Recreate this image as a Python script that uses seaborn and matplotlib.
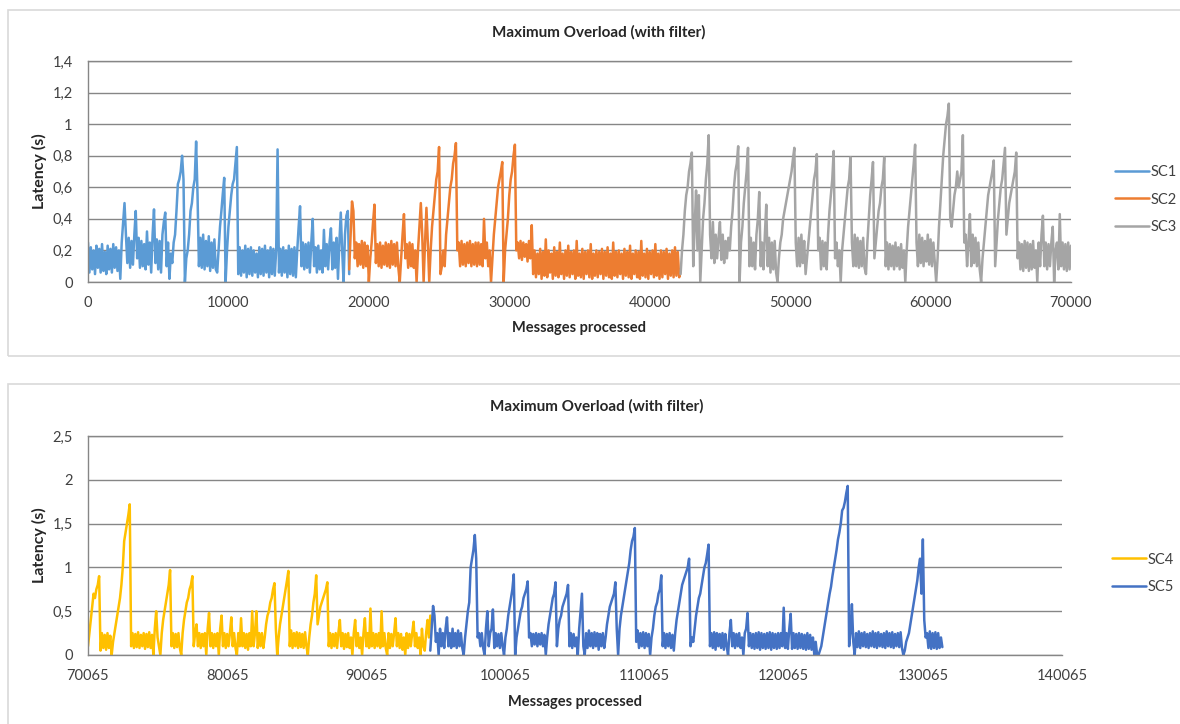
import numpy as np
import pandas as pd
import matplotlib
matplotlib.use("Agg")
import matplotlib.pyplot as plt
from matplotlib.patches import Rectangle
from matplotlib.ticker import FuncFormatter
import seaborn as sns

# One latency sample (in ms) every STEP processed messages.
STEP = 100

SC1_START = 0
SC1_MS = [
    250, 60, 220, 80, 200, 50, 230, 90, 210, 60, 240, 70, 190, 50, 230, 80, 210, 60, 240, 90, 220, 70, 200,
    20,
    250, 380, 500, 300,
    120, 280, 90, 260, 110, 300,
    450, 150,
    280, 90, 260, 100, 240, 80, 320, 110, 250, 60,
    300, 460, 120,
    270, 80, 260, 60, 300,
    380, 440, 100,
    250, 20, 180, 120, 250, 300,
    450, 620, 650, 700, 800, 650, 0,
    150, 200, 300, 450, 500, 600, 650, 890, 550, 100,
    280, 90, 300, 80, 260, 100, 290, 70, 250, 90, 270, 80, 60,
    200, 350, 450, 560, 660, 0,
    200, 350, 450, 550, 620, 650, 750, 855, 50,
    220, 40, 200, 60, 230, 30, 210, 50, 220, 40, 200, 60, 180, 30, 220, 50, 210, 40, 230, 60, 200, 30, 220, 50, 210, 40,
    200, 840, 60,
    210, 40, 220, 60, 200, 30, 230, 50, 210, 40, 220,
    30, 200, 350, 480, 100,
    250, 80, 240, 90, 250, 60, 250, 400, 100,
    220, 60, 230, 80, 200, 60, 330, 100, 240, 80, 250, 340, 80, 250, 90, 280, 20, 250, 440, 200, 0, 300, 420, 450, 50,
]

SC2_START = 18600
SC2_MS = [
    80, 300, 510, 450, 150,
    250, 100, 240, 110, 260, 90, 250, 100, 230,
    0,
    150, 250, 380, 490, 120,
    240, 100, 250, 90, 230, 110, 250, 100, 240, 90, 260, 110, 240, 100, 250, 90,
    0,
    150, 300, 430, 150,
    240, 90, 250, 100, 240, 90, 200, 0,
    200, 350, 500, 300, 0,
    250, 470, 250, 0,
    200, 350, 450, 550, 650, 700, 855, 50,
    100, 200, 100, 300, 400, 500, 600, 650, 750, 800, 880, 200,
    250, 100, 260, 110, 240, 100, 250, 120, 260, 100, 240, 110, 250, 100, 250, 110, 240, 100, 400, 150, 250, 100, 200,
    0,
    150, 300, 400, 500, 600, 650, 700, 760, 0,
    200, 300, 400, 550, 650, 700, 800, 870, 200,
    250, 150, 260, 140, 250, 160, 240, 130, 260, 150,
    360, 50,
    200, 30, 180, 50, 210, 20, 190, 40, 270, 30,
    200, 60, 180, 20, 220, 40, 190, 30, 250, 50,
    180, 20, 200, 40, 230, 30, 190, 50, 200, 20,
    260, 40, 180, 30, 210, 20, 190, 50, 200, 30,
    240, 20, 180, 40, 200, 30, 190, 50, 210, 20,
    190, 40, 220, 30, 180, 20, 250, 40, 190, 30,
    200, 50, 180, 20, 210, 40, 190, 30, 230, 20,
    180, 50, 200, 30, 190, 20, 260, 40, 180, 30,
    210, 20, 190, 50, 200, 30, 240, 40, 180, 20,
    200, 30, 190, 50, 210, 20, 180, 40, 200, 30,
    220, 40, 190, 30, 80,
]

SC3_START = 42200
SC3_MS = [
    50, 200, 300, 450, 550, 600, 700, 750, 820, 100,
    350, 580, 200, 550, 0,
    200, 400, 500, 650, 750, 930, 300,
    150, 380, 120, 300, 150, 280, 380, 140, 300, 120, 260, 150, 280, 200,
    350, 450, 600, 700, 750, 860, 0,
    250, 350, 500, 600, 700, 850, 100,
    280, 100, 250, 80, 300, 400, 570, 100, 250, 80, 300, 490, 100, 280, 60, 250, 80, 260, 60, 0,
    150, 250, 300, 400, 450, 500, 550, 600, 650, 700, 780, 850, 250,
    100, 280, 100, 300, 120, 260, 50,
    150, 250, 350, 450, 550, 650, 700, 810, 200,
    280, 80, 260, 100, 250, 80,
    300, 450, 550, 650, 830, 150,
    250, 100, 200, 0,
    200, 300, 400, 500, 600, 650, 790, 250,
    100, 300, 100, 280, 90, 260, 100, 280, 90, 50,
    250, 400, 550, 650, 760, 150,
    250, 350, 450, 500, 600, 650, 790, 100,
    250, 80, 240, 100, 230, 80, 250, 100, 220, 80, 240, 90, 200, 0,
    200, 350, 450, 550, 650, 750, 870, 250,
    100, 300, 120, 280, 100, 260, 130, 300, 110, 270, 100, 250, 120, 0,
    150, 350, 500, 650, 800, 900, 1000, 1050, 1130, 400,
    350, 450, 550, 600, 700, 600, 650, 700, 930, 250,
    300, 100, 250, 430, 100, 300, 120, 280, 100, 250, 80, 0,
    150, 250, 350, 450, 550, 600, 650, 700, 770, 100,
    250, 400, 500, 600, 650, 750, 850, 300,
    400, 500, 550, 600, 650, 700, 820, 150,
    250, 80, 240, 70, 260, 90, 250, 70, 240, 80, 260, 90, 200, 0, 250, 100, 300, 420, 100,
    250, 80, 240, 100, 250, 350, 0, 200, 250, 80, 430, 100, 250, 80, 240, 70, 250, 80, 230,
]

SC4_START = 70065
SC4_MS = [
    100, 250, 400, 550, 700, 650, 750, 800, 900, 50,
    250, 80, 230, 60, 250, 80, 220, 0,
    150, 250, 350, 450, 550, 650, 800, 1000, 1300, 1400, 1500, 1600, 1720, 100,
    250, 80, 240, 90, 260, 80, 230, 100, 250, 70, 240, 90, 260, 80, 230,
    0, 300, 500, 200, 100, 0,
    250, 400, 500, 600, 700, 800, 970, 100,
    250, 80, 240, 90, 250, 80, 0,
    250, 400, 500, 600, 650, 750, 800, 900, 100,
    250, 350, 100, 250, 80, 240, 100, 250, 0, 300, 480, 100,
    250, 80, 240, 100, 250, 0, 300, 450, 100, 250, 80, 240, 100, 250,
    430, 100, 250, 80, 0, 250, 100, 420, 100, 250, 80, 240, 60, 250,
    100, 500, 100, 250, 500, 80, 250, 100, 250, 80,
    200, 350, 450, 500, 600, 650, 750, 820, 300, 0,
    200, 350, 450, 550, 650, 750, 850, 960, 100,
    280, 80, 250, 100, 260, 80, 250, 90, 240, 80, 260, 100, 0,
    200, 350, 450, 600, 700, 910, 350,
    450, 550, 600, 650, 700, 750, 830, 100,
    250, 80, 240, 100, 250, 80,
    260, 400, 100, 250, 70, 240, 90, 250, 80, 200,
    0, 250, 400, 100, 250, 80, 200, 0, 250, 420,
    100, 250, 80, 530, 100, 250, 80, 240, 100, 250,
    80, 500, 100, 250, 80, 0, 250, 80, 240, 100,
    250, 420, 100, 250, 80, 240, 60, 200, 0, 250,
    80, 240, 100, 250, 380, 100, 250, 80, 200, 0,
    300, 100, 50, 250, 400, 200, 450,
]

SC5_START = 94665
SC5_MS = [
    50, 300, 560, 450, 150, 250, 0,
    300, 100, 250, 80, 300, 430, 100, 250, 80, 300, 100, 250, 80, 280, 100, 250, 80, 0,
    200, 350, 500, 600, 1000, 1100, 1200, 1370, 1100, 200,
    250, 100, 250, 80, 0, 300, 500, 100, 250, 300, 520, 80, 250, 100, 240, 80, 250, 100, 0,
    200, 300, 450, 550, 650, 750, 920, 0,
    200, 300, 400, 500, 550, 650, 700, 750, 840, 200,
    250, 100, 240, 120, 250, 100, 240, 120, 250, 100, 230, 0,
    200, 350, 450, 550, 650, 700, 830, 100,
    300, 400, 450, 550, 600, 650, 700, 800, 100,
    250, 80, 240, 100, 200, 0, 300, 500, 700, 100, 0,
    250, 80, 280, 100, 250, 80, 260, 100, 250, 60, 240, 100, 250, 80,
    200, 350, 450, 550, 600, 650, 700, 830, 300, 0,
    300, 450, 550, 650, 750, 850, 950, 1050, 1200, 1300, 1350, 1450, 150,
    280, 80, 250, 100, 260, 80, 250, 100, 240, 0,
    200, 300, 450, 550, 600, 700, 750, 910, 100,
    250, 80, 240, 100, 250, 80, 230, 50,
    250, 400, 500, 600, 700, 800, 850, 900, 950, 1000, 1100, 100,
    200, 150, 300, 450, 550, 650, 700, 800, 900, 1000, 1050, 1150, 1260, 100,
    250, 80, 260, 60, 250, 100, 240, 80, 250, 60,
    240, 100, 0, 250, 400, 100, 250, 80, 240, 100,
    250, 80, 200, 0, 250, 300, 480, 100, 250, 80,
    240, 70, 250, 80, 260, 60, 250, 80, 240, 70,
    250, 80, 260, 60, 250, 80, 240, 70, 250, 80,
    250, 100, 540, 80, 250, 70, 300, 470, 70, 250,
    80, 240, 70, 250, 80, 240, 70, 230, 60, 250,
    70, 230, 60, 200, 0, 150, 0, 0,
    50, 100, 200, 300, 400, 500, 600, 700, 780, 900, 1000, 1100, 1200, 1320, 1400, 1500, 1650, 1680, 1750, 1850, 1930,
    100, 250, 580, 150, 0,
    250, 90, 270, 80, 250, 100, 260, 90, 240, 80,
    250, 100, 270, 90, 250, 80, 260, 100, 240, 90,
    250, 80, 270, 100, 250, 90, 260, 80, 240, 100,
    250, 90, 260, 80, 0,
    50, 150, 200, 250, 350, 450, 550, 650, 750, 850, 1000, 1100, 700, 1320, 400, 200,
    250, 80, 270, 70, 250, 80, 260, 70, 250, 80, 200, 90,
]

TITLE = "Maximum Overload (with filter)"
X_LABEL = "Messages processed"
Y_LABEL = "Latency (s)"

TOP_XTICKS = list(range(0, 70001, 10000))
TOP_YTICKS = [0, 0.2, 0.4, 0.6, 0.8, 1.0, 1.2, 1.4]
BOT_XTICKS = list(range(70065, 140066, 10000))
BOT_YTICKS = [0, 0.5, 1.0, 1.5, 2.0, 2.5]

PALETTE = {
    "SC1": "#5B9BD5",
    "SC2": "#ED7D31",
    "SC3": "#A5A5A5",
    "SC4": "#FFC000",
    "SC5": "#4472C4",
}


def series_frame(name, start, values_ms):
    x = start + STEP * np.arange(len(values_ms))
    return pd.DataFrame({
        "messages": x,
        "latency": np.asarray(values_ms, dtype=float) / 1000.0,
        "scenario": name,
    })


top_df = pd.concat([
    series_frame("SC1", SC1_START, SC1_MS),
    series_frame("SC2", SC2_START, SC2_MS),
    series_frame("SC3", SC3_START, SC3_MS),
], ignore_index=True)

bot_df = pd.concat([
    series_frame("SC4", SC4_START, SC4_MS),
    series_frame("SC5", SC5_START, SC5_MS),
], ignore_index=True)

sns.set_theme(style="white")
plt.rcParams["font.family"] = ["Lato", "DejaVu Sans"]

W, H = 1180, 724
fig = plt.figure(figsize=(W / 100, H / 100), dpi=100)
fig.patch.set_facecolor("white")

GRID = "#868686"
TICK_TXT = "#404040"
LABEL_TXT = "#262626"
LW = 1.8


def fx(px):
    return px / W


def fy(py):
    return 1 - py / H


# Chart-area frames
fig.patches.append(Rectangle((fx(8), fy(356)), fx(1200) - fx(8), fy(10) - fy(356),
                             transform=fig.transFigure, fill=False,
                             edgecolor="#d9d9d9", lw=1.2))
fig.patches.append(Rectangle((fx(8), fy(740)), fx(1200) - fx(8), fy(384) - fy(740),
                             transform=fig.transFigure, fill=False,
                             edgecolor="#d9d9d9", lw=1.2))

ax_top = fig.add_axes([fx(88), fy(282), fx(1071) - fx(88), fy(61) - fy(282)])
ax_bot = fig.add_axes([fx(88), fy(655), fx(1062) - fx(88), fy(436) - fy(655)])


def comma_fmt(v, pos):
    s = f"{v:.1f}".rstrip("0").rstrip(".")
    return s.replace(".", ",")


def style_axes(ax, xticks, yticks, ylim):
    ax.set_xlim(xticks[0], xticks[-1])
    ax.set_ylim(*ylim)
    ax.set_xticks(xticks)
    ax.set_yticks(yticks)
    ax.yaxis.set_major_formatter(FuncFormatter(comma_fmt))
    ax.grid(axis="y", color=GRID, lw=1.0)
    ax.grid(axis="x", visible=False)
    ax.set_axisbelow(True)
    for side in ("left", "top", "bottom"):
        ax.spines[side].set_visible(True)
        ax.spines[side].set_color(GRID)
        ax.spines[side].set_linewidth(1.0)
    ax.spines["right"].set_visible(False)
    ax.tick_params(axis="both", length=0, labelsize=10.5, labelcolor=TICK_TXT)
    ax.tick_params(axis="y", pad=11)
    ax.tick_params(axis="x", pad=10)
    ax.set_facecolor("white")


def draw_panel(ax, df, order, xticks, yticks, ylim, leg_x, leg_y, xlabel_y):
    sns.lineplot(data=df, x="messages", y="latency", hue="scenario",
                 hue_order=order, palette=PALETTE, linewidth=LW,
                 estimator=None, ax=ax)
    style_axes(ax, xticks, yticks, ylim)
    ax.set_xlabel(X_LABEL, fontsize=10.5, fontweight="bold", color=LABEL_TXT)
    ax.set_ylabel(Y_LABEL, fontsize=11.5, fontweight="bold", color=LABEL_TXT)
    ax.xaxis.set_label_coords(0.5, xlabel_y)
    ax.yaxis.set_label_coords((47 - 88) / (ax.get_position().width * W), 0.5)
    handles, labels = ax.get_legend_handles_labels()
    if ax.get_legend() is not None:
        ax.get_legend().remove()
    leg = ax.legend(handles, labels, loc="center left",
                    bbox_to_anchor=(leg_x, leg_y), bbox_transform=fig.transFigure,
                    frameon=False, fontsize=10.5, handlelength=2.3,
                    handletextpad=0.15, labelspacing=0.95,
                    borderpad=0, borderaxespad=0)
    for line in leg.get_lines():
        line.set_linewidth(LW)
    for t in leg.get_texts():
        t.set_color(TICK_TXT)


draw_panel(ax_top, top_df, ["SC1", "SC2", "SC3"], TOP_XTICKS, TOP_YTICKS, (0, 1.4),
           fx(1115), fy(199.5), -0.176)
draw_panel(ax_bot, bot_df, ["SC4", "SC5"], BOT_XTICKS, BOT_YTICKS, (0, 2.5),
           fx(1112), fy(573.5), -0.183)

fig.text(fx(599), fy(32), TITLE, ha="center", va="center",
         fontsize=11, fontweight="bold", color=LABEL_TXT)
fig.text(fx(597), fy(406), TITLE, ha="center", va="center",
         fontsize=11, fontweight="bold", color=LABEL_TXT)

fig.savefig("out.png", dpi=100, facecolor="white")
